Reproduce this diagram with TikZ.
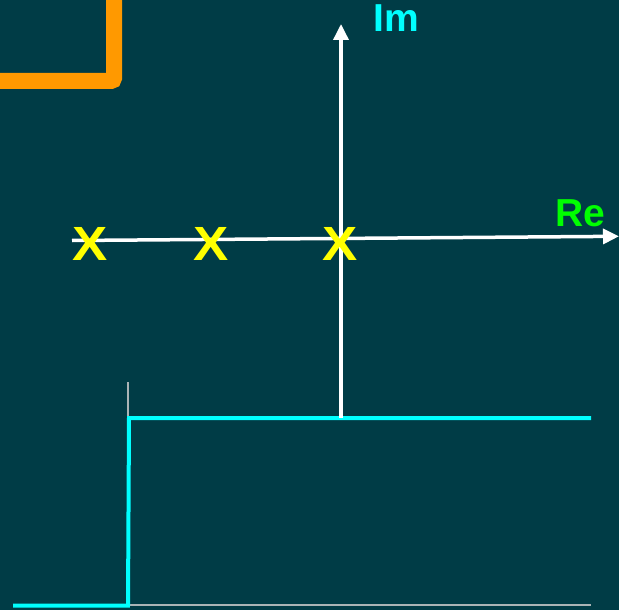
\documentclass[tikz,border=0pt]{standalone}
\usepackage{fontspec}
\setmainfont{Liberation Sans}
\usetikzlibrary{arrows.meta}
\definecolor{bg}{RGB}{0,60,70}
\definecolor{orng}{RGB}{255,153,0}
\definecolor{cyn}{RGB}{0,255,255}
\definecolor{grn}{RGB}{0,255,0}
\definecolor{yel}{RGB}{255,255,0}
\definecolor{gry}{RGB}{170,180,182}
\tikzset{
  axisline/.style={draw=white, line width=3.5pt, -{Triangle[length=16pt,width=15pt]}},
  axislabel/.style={inner sep=0pt, font=\bfseries\fontsize{39}{39}\selectfont},
  polemark/.style={inner sep=0pt, text=yel, xscale=1.1, font=\bfseries\fontsize{48}{48}\selectfont},
  stepline/.style={draw=cyn, line width=4pt},
  gridline/.style={draw=gry, line width=1.5pt},
}
\begin{document}
\begin{tikzpicture}[x=1pt,y=-1pt]
\useasboundingbox (0,0) rectangle (619,610);
\fill[bg] (0,0) rectangle (619,610);
% orange frame corner
\begin{scope}
\clip (0,0) rectangle (619,610);
\draw[orng, line width=16pt, rounded corners=3pt] (-100,-100) rectangle (114,81);
\end{scope}
% coordinates
\coordinate (imbot) at (341,418);
\coordinate (imtop) at (341,24);
\coordinate (releft) at (72,240.5);
\coordinate (reright) at (619,236.3);
\coordinate (gvtop) at (128,382);
\coordinate (gorig) at (128,605);
\coordinate (gright) at (591,605);
\coordinate (s0) at (13,605.5);
\coordinate (s1) at (128,605.5);
\coordinate (s2) at (129,418);
\coordinate (s3) at (591,418);
% grey axes of step plot
\draw[gridline] (gvtop) -- (gorig) -- (gright);
% step
\draw[stepline, line join=miter] (s0) -- (s1) -- (s2) -- (s3);
% complex plane axes
\draw[axisline] (imbot) -- (imtop);
\draw[axisline] (releft) -- (reright);
% labels
\node[axislabel, text=cyn] (imlab) at (396,18.5) {Im};
\node[axislabel, text=grn] (relab) at (580.5,213) {Re};
% poles
\node[polemark] (p1) at (90,244) {X};
\node[polemark] (p2) at (211,244) {X};
\node[polemark] (p3) at (340,244) {X};
\end{tikzpicture}
\end{document}
